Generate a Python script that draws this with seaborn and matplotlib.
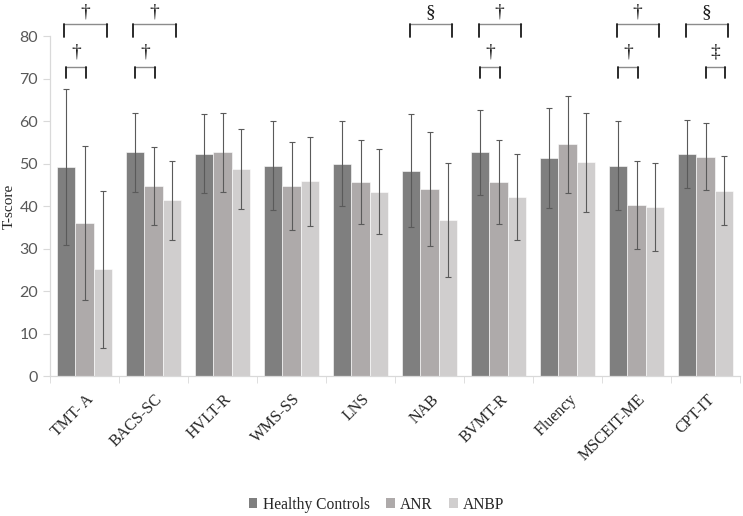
import numpy as np
import pandas as pd
import matplotlib
matplotlib.use("Agg")
import matplotlib.pyplot as plt
import matplotlib.transforms as mtransforms
import seaborn as sns
from matplotlib.patches import Patch

tests = ["TMT- A", "BACS-SC", "HVLT-R", "WMS-SS", "LNS", "NAB", "BVMT-R",
         "Fluency", "MSCEIT-ME", "CPT-IT"]
groups = ["Healthy Controls", "ANR", "ANBP"]

hc_mean = [49.2, 52.6, 52.3, 49.5, 50.0, 48.3, 52.7, 51.3, 49.5, 52.2]
hc_sd = [18.3, 9.4, 9.3, 10.4, 9.9, 13.3, 10.0, 11.7, 10.4, 8.0]
anr_mean = [36.0, 44.8, 52.6, 44.7, 45.6, 44.0, 45.6, 54.5, 40.3, 51.6]
anr_sd = [18.2, 9.2, 9.3, 10.4, 9.9, 13.3, 9.9, 11.5, 10.3, 7.9]
anbp_mean = [25.1, 41.3, 48.7, 45.8, 43.3, 36.7, 42.2, 50.3, 39.7, 43.6]
anbp_sd = [18.5, 9.3, 9.4, 10.5, 10.0, 13.4, 10.1, 11.7, 10.4, 8.1]

# significance brackets: (test index, kind, symbol)
# kind: "all" = HC vs ANBP (upper), "hc_anr" / "anr_anbp" = lower
sig = [(0, "all", "†"), (0, "hc_anr", "†"),
       (1, "all", "†"), (1, "hc_anr", "†"),
       (5, "all", "§"),
       (6, "all", "†"), (6, "hc_anr", "†"),
       (8, "all", "†"), (8, "hc_anr", "†"),
       (9, "all", "§"), (9, "anr_anbp", "‡")]

colors = ["#7F7F7F", "#AEAAAA", "#D0CECE"]

df = pd.DataFrame({
    "test": tests * 3,
    "group": [g for g in groups for _ in tests],
    "score": hc_mean + anr_mean + anbp_mean,
})
sds = [hc_sd, anr_sd, anbp_sd]

sns.set_style("white")
serif = ["Liberation Serif", "DejaVu Serif"]

fig = plt.figure(figsize=(7.43, 5.16), dpi=100)
ax = fig.add_axes([0.0673, 0.2713, 0.9287, 0.6589])

sns.barplot(data=df, x="test", y="score", hue="group", hue_order=groups,
            palette=colors, errorbar=None, width=0.8, saturation=1,
            edgecolor="white", linewidth=0.4, ax=ax)

for cont, sd in zip(ax.containers, sds):
    xs = [b.get_x() + b.get_width() / 2 for b in cont]
    ys = [b.get_height() for b in cont]
    ax.errorbar(xs, ys, yerr=sd, fmt="none", ecolor="#5A5A5A",
                elinewidth=0.8, capsize=2.2, capthick=0.8, zorder=3)

ax.set_xlim(-0.5, 9.5)
ax.set_ylim(0, 80)
ax.set_yticks(range(0, 81, 10))
ax.set_xlabel("")
ax.set_ylabel("T-score", fontsize=11, family=serif, color="#262626")
ax.yaxis.set_label_coords(-0.049, 0.5)

for s in ["top", "right"]:
    ax.spines[s].set_visible(False)
for s in ["left", "bottom"]:
    ax.spines[s].set_color("#D9D9D9")
    ax.spines[s].set_linewidth(0.9)

ax.tick_params(axis="y", left=True, length=5, color="#D9D9D9",
               labelsize=11.5, labelcolor="#595959")
for lab in ax.get_yticklabels():
    lab.set_family(["Lato", "DejaVu Sans"])

ax.set_xticks(np.arange(-0.5, 10, 1), minor=True)
ax.tick_params(axis="x", which="minor", bottom=True, length=5, color="#D9D9D9")
ax.tick_params(axis="x", which="major", length=0, pad=11)
ax.set_xticks(range(len(tests)))
ax.set_xticklabels(tests, rotation=45, ha="right", rotation_mode="anchor",
                   fontsize=11.5, family=serif, color="#262626")
shift = mtransforms.ScaledTranslation(1 / 100, 0, fig.dpi_scale_trans)
for lab in ax.get_xticklabels():
    lab.set_transform(lab.get_transform() + shift)
ax.get_legend().remove()

# significance brackets above the bars
spans = {"all": (-0.29, 0.32, 79.8, 82.8, 85.6),
         "hc_anr": (-0.27, 0.02, 70.1, 72.7, 76.3),
         "anr_anbp": (0.0, 0.28, 70.1, 72.7, 76.3)}
for i, kind, sym in sig:
    x0, x1, ylo, yhi, yt = spans[kind]
    ax.plot([i + x0, i + x1], [yhi, yhi], color="#8C8C8C", lw=1.0,
            clip_on=False)
    ax.plot([i + x0, i + x0], [ylo, yhi], color="#1A1A1A", lw=1.3,
            clip_on=False)
    ax.plot([i + x1, i + x1], [ylo, yhi], color="#1A1A1A", lw=1.3,
            clip_on=False)
    ax.text(i + (x0 + x1) / 2, yt, sym, ha="center", va="center",
            fontsize=14, family=serif, color="#1A1A1A", clip_on=False)

handles = [Patch(facecolor=c, edgecolor="none") for c in colors]
fig.legend(handles, groups, loc="center", bbox_to_anchor=(0.507, 0.022),
           ncol=3, frameon=False, handlelength=0.55, handleheight=0.55,
           handletextpad=0.35, columnspacing=1.05,
           prop={"family": serif, "size": 11.2})

fig.savefig("out.png", dpi=100)
